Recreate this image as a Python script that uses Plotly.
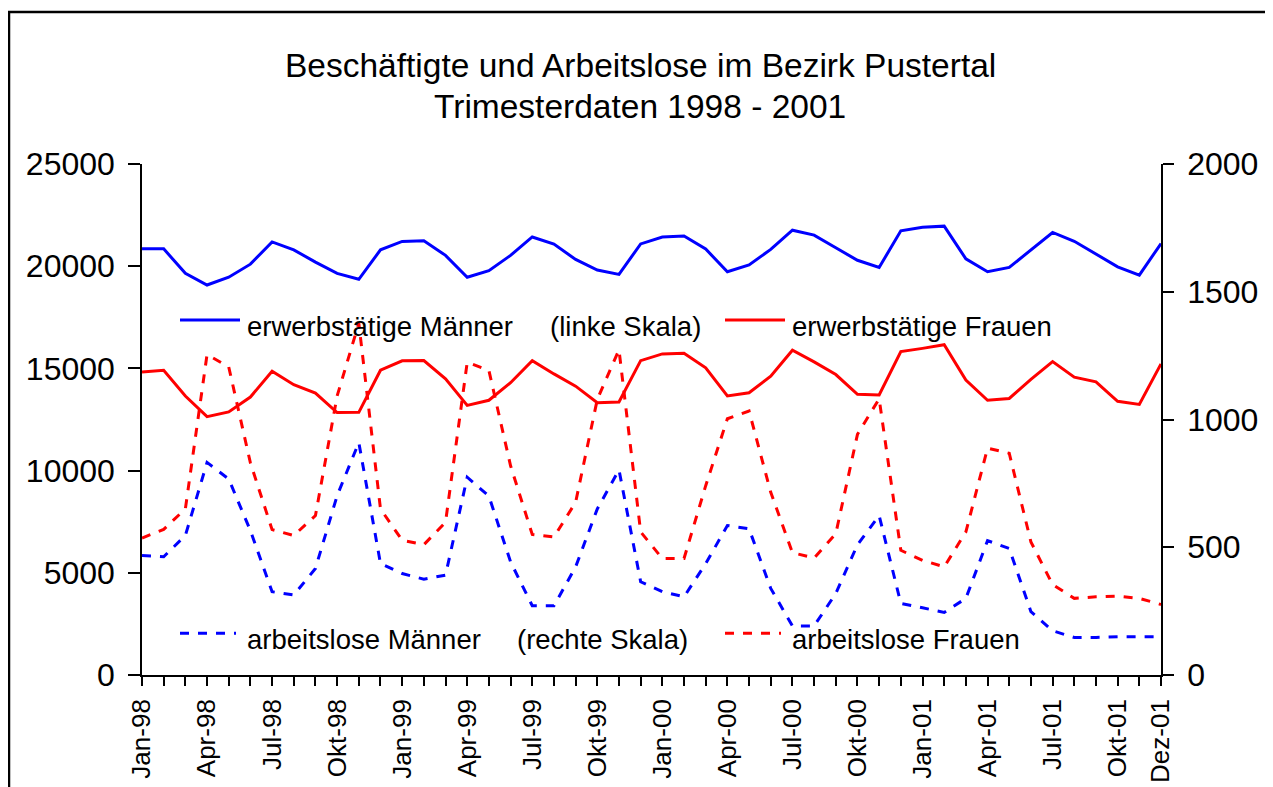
import plotly.graph_objects as go

# ---------------- data ----------------
month_abbr = ["Jan", "Feb", "Mär", "Apr", "Mai", "Jun", "Jul", "Aug", "Sep", "Okt", "Nov", "Dez"]
years = ["98", "99", "00", "01"]
months = [f"{m}-{y}" for y in years for m in month_abbr]

tick_labels = ["Jan-98", "Apr-98", "Jul-98", "Okt-98", "Jan-99", "Apr-99", "Jul-99", "Okt-99",
               "Jan-00", "Apr-00", "Jul-00", "Okt-00", "Jan-01", "Apr-01", "Jul-01", "Okt-01", "Dez-01"]

erwerbstaetige_maenner = [20850, 20850, 19650, 19080, 19460, 20100, 21190, 20800, 20200, 19650, 19360, 20800,
                          21210, 21240, 20530, 19460, 19780, 20530, 21430, 21080, 20330, 19810, 19600, 21090,
                          21430, 21480, 20840, 19730, 20060, 20820, 21760, 21520, 20900, 20290, 19940, 21730,
                          21910, 21960, 20360, 19730, 19940, 20790, 21650, 21220, 20590, 19970, 19560, 21110]

erwerbstaetige_frauen = [14820, 14910, 13650, 12640, 12870, 13600, 14860, 14200, 13790, 12840, 12850, 14910,
                         15370, 15380, 14490, 13190, 13440, 14300, 15380, 14730, 14130, 13320, 13360, 15380,
                         15710, 15740, 15030, 13650, 13810, 14620, 15890, 15320, 14700, 13730, 13700, 15820,
                         15980, 16160, 14430, 13440, 13530, 14460, 15330, 14570, 14340, 13390, 13240, 15220]

arbeitslose_maenner = [468, 463, 546, 832, 767, 565, 326, 313, 417, 702, 910, 436,
                       397, 375, 391, 774, 700, 443, 271, 271, 423, 650, 803, 365,
                       326, 306, 436, 585, 572, 339, 192, 192, 319, 510, 624, 280,
                       263, 245, 300, 526, 495, 248, 173, 147, 147, 150, 150, 150]

arbeitslose_frauen = [536, 570, 650, 1254, 1206, 830, 569, 546, 624, 1092, 1377, 650,
                      527, 510, 598, 1224, 1192, 819, 550, 540, 676, 1079, 1273, 560,
                      456, 456, 741, 1003, 1033, 715, 479, 458, 553, 942, 1081, 488,
                      449, 423, 560, 888, 868, 521, 354, 300, 306, 309, 300, 276]

left_ticks = [0, 5000, 10000, 15000, 20000, 25000]
right_ticks = [0, 500, 1000, 1500, 2000]

title_lines = ["Beschäftigte und Arbeitslose im Bezirk Pustertal", "Trimesterdaten 1998 - 2001"]

# ---------------- layout geometry ----------------
W, H = 1273, 787
OFF = 8  # page offset of the figure (browser body margin)
ML, MR, MT, MB = 134, 120, 156, 117
PW = W - ML - MR
PH = H - MT - MB
FONT = "Arial, Liberation Sans, sans-serif"
BLUE = "#0000FF"
RED = "#FF0000"
DASH = "9px,9px"


def px_x(px):
    return (px - OFF - ML) / PW


def px_y(py):
    return (H - MB - (py - OFF)) / PH


fig = go.Figure()

fig.add_trace(go.Scatter(x=months, y=erwerbstaetige_maenner, mode="lines", name="erwerbstätige Männer",
                         line=dict(color=BLUE, width=3), yaxis="y", showlegend=False))
fig.add_trace(go.Scatter(x=months, y=erwerbstaetige_frauen, mode="lines", name="erwerbstätige Frauen",
                         line=dict(color=RED, width=3), yaxis="y", showlegend=False))
fig.add_trace(go.Scatter(x=months, y=arbeitslose_maenner, mode="lines", name="arbeitslose Männer",
                         line=dict(color=BLUE, width=3, dash=DASH), yaxis="y2", showlegend=False))
fig.add_trace(go.Scatter(x=months, y=arbeitslose_frauen, mode="lines", name="arbeitslose Frauen",
                         line=dict(color=RED, width=3, dash=DASH), yaxis="y2", showlegend=False))

ticktext = []
for i, m in enumerate(months):
    ticktext.append(m if m in tick_labels and (i % 3 == 0 or i == len(months) - 1) else "")

fig.update_layout(
    width=W, height=H,
    margin=dict(l=ML, r=MR, t=MT, b=MB, pad=0),
    paper_bgcolor="white", plot_bgcolor="white",
    font=dict(family=FONT, color="black"),
    xaxis=dict(
        type="category", range=[0, len(months) - 1],
        tickmode="array", tickvals=months, ticktext=ticktext,
        tickangle=-90, tickfont=dict(size=26, family=FONT),
        ticks="outside", ticklen=9, tickwidth=1.5, tickcolor="black",
        showline=True, linecolor="black", linewidth=1.5,
        showgrid=False, zeroline=False, ticklabelstandoff=3,
    ),
    yaxis=dict(
        range=[0, 25000], tickmode="array", tickvals=left_ticks,
        ticktext=[str(v) for v in left_ticks],
        tickfont=dict(size=32, family=FONT),
        ticks="outside", ticklen=12, tickwidth=1.5, tickcolor="black",
        showline=True, linecolor="black", linewidth=1.5,
        showgrid=False, zeroline=False, ticklabelstandoff=7,
    ),
    yaxis2=dict(
        range=[0, 2000], overlaying="y", side="right", anchor="x",
        tickmode="array", tickvals=right_ticks, ticktext=[str(v) for v in right_ticks],
        tickfont=dict(size=32, family=FONT),
        ticks="outside", ticklen=11, tickwidth=1.5, tickcolor="black",
        showline=True, linecolor="black", linewidth=1.5,
        showgrid=False, zeroline=False, ticklabelstandoff=7,
    ),
    yaxis3=dict(
        range=[0, 2000], overlaying="y", side="right", anchor="x",
        tickmode="array", tickvals=right_ticks, showticklabels=False,
        ticks="inside", ticklen=11, tickwidth=1.5, tickcolor="black",
        showline=False, showgrid=False, zeroline=False,
    ),
)

# title (two lines)
fig.add_annotation(text=title_lines[0], xref="paper", yref="paper", x=px_x(640), y=px_y(65),
                   xanchor="center", yanchor="middle", showarrow=False,
                   font=dict(size=33.5, family=FONT, color="black"))
fig.add_annotation(text=title_lines[1], xref="paper", yref="paper", x=px_x(640), y=px_y(106),
                   xanchor="center", yanchor="middle", showarrow=False,
                   font=dict(size=33.5, family=FONT, color="black"))

# outer frame (cut off at right and bottom as in the reference)
fig.add_shape(type="rect", xref="paper", yref="paper",
              x0=px_x(9), x1=px_x(1300), y0=px_y(820), y1=px_y(11),
              line=dict(color="black", width=2.5), fillcolor="rgba(0,0,0,0)", layer="above")

# in-plot legend: samples + labels
legend_items = [
    (180, 240, 321, BLUE, "solid", 245, 327, "erwerbstätige Männer"),
    (725, 785, 321, RED, "solid", 790, 327, "erwerbstätige Frauen"),
    (180, 236, 636, BLUE, DASH, 245, 642, "arbeitslose Männer"),
    (725, 781, 636, RED, DASH, 790, 642, "arbeitslose Frauen"),
]
for x0, x1, ly, col, dash, tx, ty, label in legend_items:
    fig.add_shape(type="line", xref="paper", yref="paper",
                  x0=px_x(x0), x1=px_x(x1), y0=px_y(ly), y1=px_y(ly),
                  line=dict(color=col, width=3, dash=dash))
    fig.add_annotation(text=label, xref="paper", yref="paper", x=px_x(tx), y=px_y(ty),
                       xanchor="left", yanchor="middle", showarrow=False,
                       font=dict(size=27.5, family=FONT, color="black"))

fig.add_annotation(text="(linke Skala)", xref="paper", yref="paper", x=px_x(548), y=px_y(327),
                   xanchor="left", yanchor="middle", showarrow=False,
                   font=dict(size=27.5, family=FONT, color="black"))
fig.add_annotation(text="(rechte Skala)", xref="paper", yref="paper", x=px_x(515), y=px_y(642),
                   xanchor="left", yanchor="middle", showarrow=False,
                   font=dict(size=27.5, family=FONT, color="black"))

fig.write_html("out.html")
